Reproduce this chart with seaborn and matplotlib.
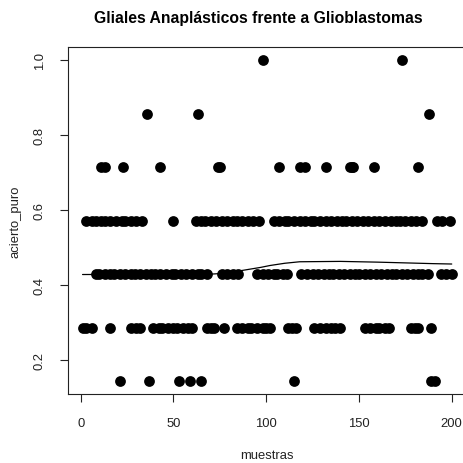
import numpy as np
import pandas as pd
import matplotlib
matplotlib.use("Agg")
import matplotlib.pyplot as plt
import seaborn as sns

# x positions (muestras) of the points on each accuracy level (k/7)
x_lvl7 = [98, 173]
x_lvl6 = [36, 63, 188]
x_lvl5 = [11, 13, 23, 43, 74, 75, 107, 118, 121, 132, 145, 146, 147, 158, 182]
x_lvl4 = [3, 6, 8, 11, 13, 16, 19, 22, 24, 27, 30, 33, 50,
          62, 65, 67, 70, 73, 76, 79, 82, 84, 87, 90, 93, 96,
          104, 107, 110, 112, 115, 118, 121, 124, 126, 129, 132, 135, 138, 141,
          143, 146, 149, 152, 155, 158, 161, 164, 167, 170, 172, 175, 178, 181, 184,
          192, 195, 199]
x_lvl3 = [8, 10, 13, 16, 18, 21, 24, 27, 29, 32, 35, 38, 40, 43, 46, 49, 51, 54,
          57, 60, 63, 65, 68, 76, 79, 82, 85, 95, 98, 101, 104, 106, 109, 111,
          119, 122, 125, 128, 131, 134, 136, 139, 142, 145, 148, 150, 153, 156,
          159, 162, 165, 168, 170, 173, 176, 179, 182, 184, 187, 194, 197, 200]
x_lvl2 = [1, 3, 6, 16, 27, 30, 32, 39, 42, 44, 47, 50, 52, 55, 58, 60,
          68, 70, 72, 77, 84, 87, 90, 92, 95, 98, 100, 102, 112, 114, 116,
          126, 129, 132, 135, 137, 140, 153, 156, 159, 161, 164, 166,
          178, 180, 182, 189]
x_lvl1 = [21, 37, 53, 59, 65, 115, 189, 191]

# smoothed curve
line_x = [1, 70, 80, 86, 97, 102, 110, 118, 140, 160, 175, 190, 200]
line_y = [0.428, 0.429, 0.432, 0.438, 0.447, 0.452, 0.458, 0.462, 0.463, 0.461, 0.459, 0.457, 0.456]

groups = [x_lvl1, x_lvl2, x_lvl3, x_lvl4, x_lvl5, x_lvl6, x_lvl7]
rows = []
for k, xs in enumerate(groups, start=1):
    for x in xs:
        rows.append((x, k / 7))
df = pd.DataFrame(rows, columns=["muestras", "acierto_puro"])

sns.set_style("white")
plt.rcParams["font.family"] = ["Liberation Sans", "DejaVu Sans"]

fig = plt.figure(figsize=(4.64, 4.64), dpi=100)
ax = fig.add_axes([0.1461, 0.148, 0.8593, 0.7483])

sns.lineplot(x=line_x, y=line_y, color="black", linewidth=0.9, ax=ax)
sns.scatterplot(data=df, x="muestras", y="acierto_puro", color="black",
                s=60, linewidth=0, ax=ax, zorder=3)

ax.set_xlim(-6.96, 207.96)
ax.set_ylim(1 / 7 - 0.0343, 1.0343)
ax.set_xticks([0, 50, 100, 150, 200])
ax.set_xticklabels(["0", "50", "100", "150", "200"])
ax.set_yticks([0.2, 0.4, 0.6, 0.8, 1.0])
ax.set_yticklabels(["0.2", "0.4", "0.6", "0.8", "1.0"], rotation=90, va="center")
ax.tick_params(direction="out", length=6, width=0.8, pad=10, labelsize=9.4,
               colors="#222222", left=True, bottom=True)
for sp in ax.spines.values():
    sp.set_visible(True)
    sp.set_color("#222222")
    sp.set_linewidth(0.8)
ax.set_xlabel("")
ax.set_ylabel("")

fig.text(267 / 464, 1 - 456 / 464, "muestras", ha="center", va="center",
         fontsize=9.4, color="#222222")
fig.text(16 / 464, 1 - 222 / 464, "acierto_puro", ha="center", va="center",
         rotation=90, fontsize=9.4, color="#222222")
fig.text(258 / 464, 1 - 18 / 464, "Gliales Anaplásticos frente a Glioblastomas",
         ha="center", va="center", fontsize=11.3, fontweight="bold", color="black")

fig.savefig("out.png", dpi=100)
